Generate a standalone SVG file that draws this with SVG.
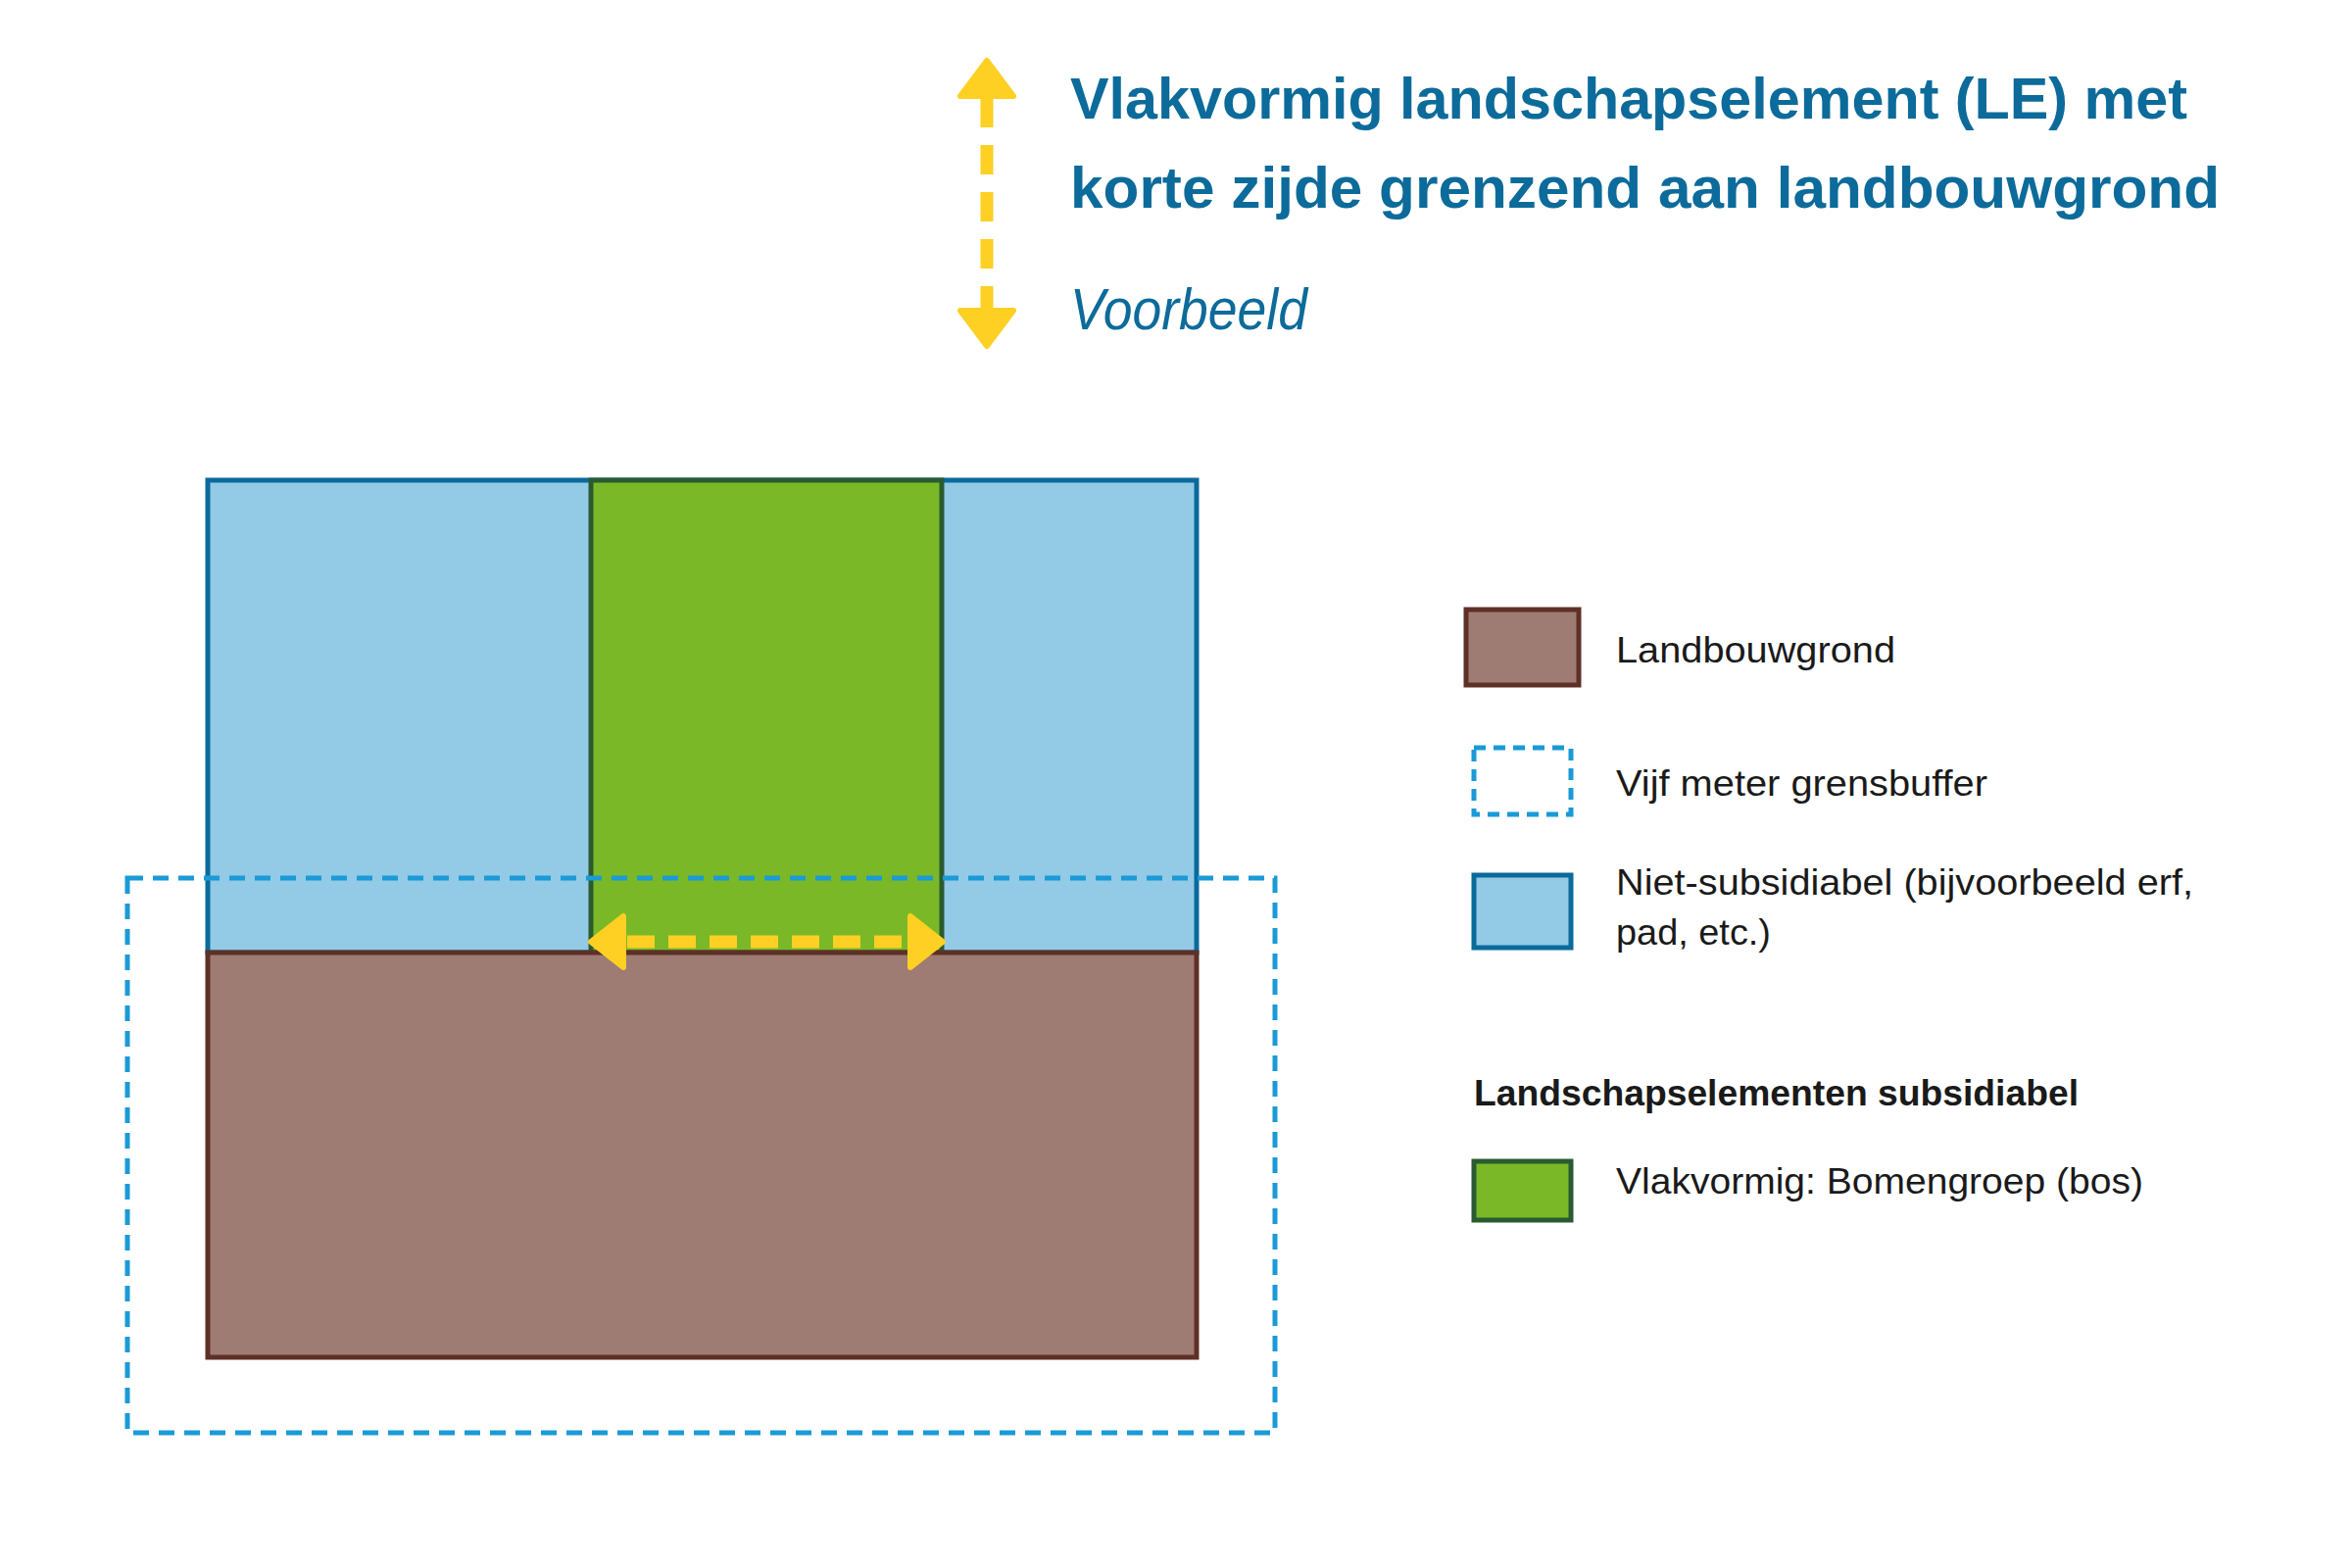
<svg xmlns="http://www.w3.org/2000/svg" width="2400" height="1600" viewBox="0 0 2400 1600">
<style>
.t{font-family:"Liberation Sans",Arial,sans-serif;fill:#1a1a1a;font-size:36px}
.h{font-family:"Liberation Sans",Arial,sans-serif;fill:#0c6b9a;font-size:60px;font-weight:bold}
.blue{fill:#93cae6;stroke:#0a6a9c;stroke-width:5}
.green{fill:#7ab828;stroke:#2a5a30;stroke-width:5}
.brown{fill:#9e7b73;stroke:#5e3028;stroke-width:5}
.buf{fill:none;stroke:#1a9ad6;stroke-width:5;stroke-dasharray:16 10}
.ar{stroke:#fdd023;stroke-width:13;stroke-dasharray:30 18;fill:none}
.hd{fill:#fdd023;stroke:#fdd023;stroke-width:6;stroke-linejoin:round}
</style>
<g id="header">
<path class="ar" d="M1007 100 V320"/>
<path class="hd" d="M1007 62 L1034 98 L980 98 Z"/>
<path class="hd" d="M1007 353 L1034 317 L980 317 Z"/>
<text class="h" x="1092" y="121" textLength="1140" lengthAdjust="spacingAndGlyphs">Vlakvormig landschapselement (LE) met</text>
<text class="h" x="1092" y="212" textLength="1173" lengthAdjust="spacingAndGlyphs">korte zijde grenzend aan landbouwgrond</text>
<text class="h" x="1092" y="336" style="font-weight:normal;font-style:italic" textLength="242" lengthAdjust="spacingAndGlyphs">Voorbeeld</text>
</g>
<g id="niet-subsidiabel"><rect class="blue" x="212" y="490" width="1009" height="482"/></g>
<g id="bomengroep"><rect class="green" x="603" y="490" width="358" height="482"/></g>
<g id="landbouwgrond"><rect class="brown" x="212" y="972" width="1009" height="413"/></g>
<g id="grensbuffer"><rect class="buf" x="130" y="896" width="1171" height="566"/></g>
<g id="connectors">
<path class="ar" d="M640 961 H925" style="stroke-dasharray:28 14"/>
<path class="hd" d="M603 961 L636 935 L636 987 Z"/>
<path class="hd" d="M962 961 L929 935 L929 987 Z"/>
</g>
<g id="legend-landbouwgrond"><rect class="brown" x="1496" y="622" width="115" height="77"/><text class="t" x="1649" y="676" textLength="285" lengthAdjust="spacingAndGlyphs">Landbouwgrond</text></g>
<g id="legend-buffer"><rect class="buf" x="1504" y="763" width="99" height="68" style="stroke-dasharray:12 8"/><text class="t" x="1649" y="812" textLength="379" lengthAdjust="spacingAndGlyphs">Vijf meter grensbuffer</text></g>
<g id="legend-niet"><rect class="blue" x="1504" y="893" width="99" height="74"/><text class="t" x="1649" y="913" textLength="589" lengthAdjust="spacingAndGlyphs">Niet-subsidiabel (bijvoorbeeld erf,</text><text class="t" x="1649" y="964" textLength="158" lengthAdjust="spacingAndGlyphs">pad, etc.)</text></g>
<text class="t" x="1504" y="1128" style="font-weight:bold" textLength="617" lengthAdjust="spacingAndGlyphs">Landschapselementen subsidiabel</text>
<g id="legend-green"><rect class="green" x="1504" y="1185" width="99" height="60"/><text class="t" x="1649" y="1218" textLength="538" lengthAdjust="spacingAndGlyphs">Vlakvormig: Bomengroep (bos)</text></g>
</svg>
